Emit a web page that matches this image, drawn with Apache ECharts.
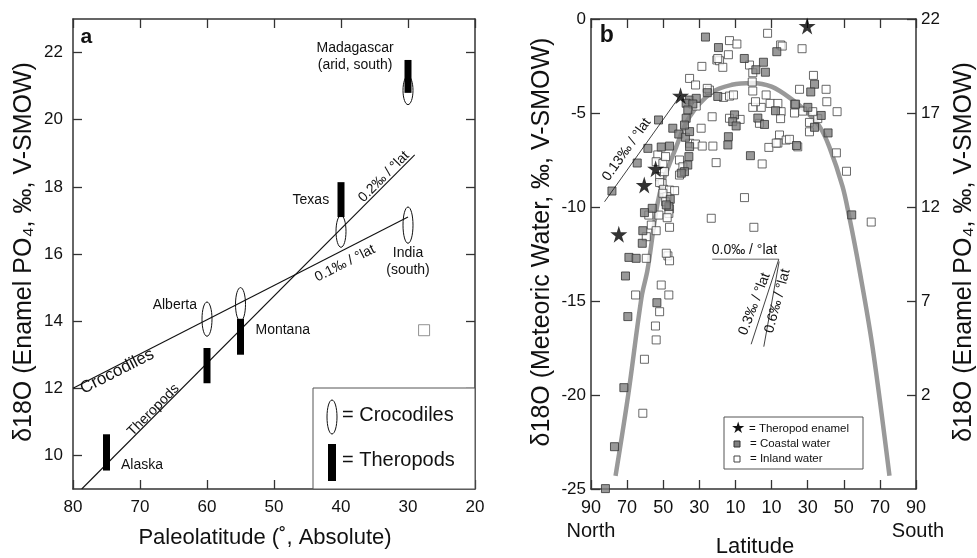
<!DOCTYPE html>
<html>
<head>
<meta charset="utf-8">
<title>δ18O vs latitude</title>
<script src="https://cdn.jsdelivr.net/npm/echarts@6.0.0/dist/echarts.min.js"></script>
<style>
  html, body { margin: 0; padding: 0; background: #fff; }
  #chart { width: 977px; height: 558px; }
</style>
</head>
<body>
<div id="chart"></div>
<script>
const FONT = '"Liberation Sans", Arial, Helvetica, sans-serif';

// ---- panel a : enamel d18O vs paleolatitude ----
const paleoTicks = [80, 70, 60, 50, 40, 30, 20];
const enamelTicks = [10, 12, 14, 16, 18, 20, 22];
// crocodiles (ellipses): latitude, low, high
const crocLat  = [60, 55, 40, 30, 30];
const crocLow  = [13.55, 14.0, 16.2, 16.32, 20.45];
const crocHigh = [14.57, 15.0, 17.15, 17.4, 21.3];
// theropods (bars)
const theroLat  = [75, 60, 55, 40, 30];
const theroLow  = [9.55, 12.15, 13.0, 17.1, 20.8];
const theroHigh = [10.63, 13.2, 14.07, 18.14, 21.78];
// regression lines
const crocLine  = [[80, 12.0], [30, 17.1]];
const theroLine = [[78.7, 9.0], [29, 18.95]];
const oddSquare = [[27.6, 13.73]];

// ---- panel b : meteoric water d18O vs latitude (north negative) ----
const latTicks = [-90, -70, -50, -30, -10, 10, 30, 50, 70, 90];
const enamelRightTicks = [2, 7, 12, 17, 22];
const theropodEnamel = [[-40.4, -4.08], [-54.2, -7.96], [-60.5, -8.83], [-74.6, -11.45], [29.7, -0.37]];
const coastalWater = [
  [-26.6, -0.96], [-19.4, -1.52], [-5.1, -2.1], [5.5, -2.3], [1.3, -2.7], [6.6, -2.83], [12.9, -1.74],
  [33.8, -3.47], [31.7, -3.88], [30.1, -4.7], [37.5, -5.13], [33.8, -5.76], [41.3, -6.06], [54.4, -10.42],
  [12.2, -4.88], [23.3, -4.53], [2.4, -5.27], [6.1, -5.61], [23.8, -6.73], [-1.7, -7.27],
  [-25.6, -3.92], [-19.8, -4.12], [-10.5, -5.1], [-11.5, -5.46], [-9.6, -5.69], [-13.9, -6.26], [-14.2, -6.7],
  [-35.4, -4.31], [-31.7, -4.22], [-37.3, -4.48], [-33.6, -4.52], [-36.4, -4.84], [-37.3, -5.28],
  [-52.6, -5.37], [-44.7, -5.81], [-41.4, -6.12], [-37.7, -6.29], [-35.4, -5.99], [-38.2, -5.64],
  [-51.1, -6.81], [-58.5, -6.88], [-64.4, -7.66], [-46.5, -6.76], [-35.4, -6.79], [-35.8, -7.32],
  [-36.4, -7.77], [-38.2, -8.12], [-40.0, -8.2], [-78.4, -9.15], [-46.1, -9.59], [-46.9, -9.98],
  [-48.3, -9.89], [-56.1, -10.07], [-60.4, -10.3], [-61.3, -11.26], [-61.6, -11.93], [-69.0, -12.68],
  [-65.0, -12.73], [-70.9, -13.67], [-53.5, -15.09], [-69.6, -15.83], [-71.8, -19.61], [-77.0, -22.75],
  [-82.0, -24.98]
];
const inlandWater = [
  [-13.3, -1.15], [-9.2, -1.33], [-13.9, -1.9], [-20.3, -2.18], [-18.8, -2.22], [-17.0, -2.57], [-28.6, -2.52],
  [7.8, -0.76], [15.0, -1.38], [15.9, -1.44], [26.9, -1.58], [-2.2, -2.45], [-0.4, -2.86], [-0.7, -3.35],
  [7.0, -4.04], [-0.4, -3.83], [9.2, -4.49], [13.5, -4.49], [-0.4, -4.7], [4.3, -4.7], [1.1, -4.4],
  [15.3, -4.93], [15.0, -5.3], [22.7, -4.54], [22.7, -5.0], [25.5, -3.74], [33.2, -3.0], [40.2, -3.74],
  [40.6, -4.4], [31.0, -5.5], [35.6, -5.3], [32.8, -4.93], [27.3, -4.9], [46.3, -4.93], [31.0, -6.0],
  [-13.3, -5.28], [-7.4, -5.34], [3.3, -5.55], [-24.4, -3.78], [-22.9, -5.2], [-16.6, -4.17], [-13.3, -4.1],
  [-11.1, -4.04], [14.4, -6.17], [18.1, -6.44], [13.5, -6.6], [24.5, -6.8], [8.5, -6.83], [-22.5, -6.76],
  [-20.7, -7.64], [4.8, -7.71], [45.9, -7.12], [51.5, -8.1], [-5.0, -9.5], [0.2, -11.08], [-23.4, -10.6],
  [65.2, -10.8], [19.9, -6.4], [12.6, -6.6],
  [-19.8, -2.1], [-35.4, -3.16], [-32.1, -3.51], [-25.6, -3.69], [-31.7, -4.63], [-29.0, -5.81],
  [-35.4, -6.61], [-32.1, -6.65], [-28.4, -6.76], [-53.0, -7.23], [-53.9, -7.59], [-50.2, -7.68],
  [-48.7, -7.32], [-41.0, -7.5], [-39.1, -7.86], [-52.0, -8.39], [-50.6, -8.74], [-41.0, -8.3],
  [-49.3, -8.12], [-52.0, -8.7], [-49.8, -9.06], [-46.5, -9.1], [-43.7, -9.13], [-48.0, -9.45],
  [-50.2, -9.27], [-48.7, -9.72], [-46.5, -10.1], [-46.9, -10.34], [-56.6, -10.96], [-46.5, -11.08],
  [-53.9, -11.26], [-52.4, -10.43], [-59.4, -11.58], [-47.8, -10.57], [-58.0, -10.43], [-59.4, -12.73],
  [-47.4, -12.6], [-46.5, -12.86], [-48.3, -12.46], [-65.3, -14.68], [-51.1, -14.15], [-46.9, -14.68],
  [-52.0, -15.57], [-54.3, -16.33], [-53.9, -17.07], [-60.4, -18.1], [-61.3, -20.97]
];
// grey fitted curve
const curveLat = [-76.4, -69.4, -62.0, -58.7, -52.0, -42.8, -35.4, -23.0, -12.0, -1.0, 10.0, 21.6, 30.0, 36.5, 42.0, 49.3, 53.0, 58.7, 66.0, 75.3];
const curveVal = [-24.3, -20.0, -14.8, -13.35, -9.3, -6.8, -5.2, -3.9, -3.5, -3.4, -3.6, -4.3, -5.0, -5.7, -6.8, -8.9, -10.5, -13.35, -17.5, -24.3];
// gradient guide lines
const slope013 = [[-82.5, -9.72], [-40.4, -4.05]];
const slope00  = [[-22.9, -12.78], [14.0, -12.78]];
const slope03  = [[14.0, -12.78], [-1.3, -17.3]];
const slope06  = [[14.2, -12.9], [5.7, -17.43]];

// annotations: x, y, text, rotation(deg), fontSize, weight
const notesA = [
  [37.9, 21.87, 'Madagascar\n(arid, south)', 0, 14, 'normal'],
  [44.5, 17.6, 'Texas', 0, 14, 'normal'],
  [30.0, 15.78, 'India\n(south)', 0, 14, 'normal'],
  [64.8, 14.48, 'Alberta', 0, 14, 'normal'],
  [48.7, 13.73, 'Montana', 0, 14, 'normal'],
  [69.7, 9.7, 'Alaska', 0, 14, 'normal'],
  [73.4, 12.5, 'Crocodiles', 27, 17, 'normal'],
  [68.0, 11.35, 'Theropods', 45, 14, 'normal'],
  [33.6, 18.3, '0.2‰ / °lat', 45, 14, 'normal'],
  [39.4, 15.72, '0.1‰ / °lat', 27, 14, 'normal'],
  [78.0, 22.47, 'a', 0, 21, 'bold']
];
const notesB = [
  [-70.3, -6.95, '0.13‰ / °lat', 54.5, 14, 'normal'],
  [-5.0, -12.29, '0.0‰ / °lat', 0, 14, 'normal'],
  [0.55, -15.16, '0.3‰ / °lat', 69, 14, 'normal'],
  [13.3, -15.0, '0.6‰ / °lat', 75, 14, 'normal'],
  [-81.3, -0.9, 'b', 0, 23, 'bold']
];

const STAR = 'path://M50,0 L61,35 L98,35 L68,57 L79,91 L50,70 L21,91 L32,57 L2,35 L39,35 Z';
const axisLine = { onZero: false, lineStyle: { color: '#333', width: 1.5 } };
const tickStyle = { color: '#333', width: 1.3 };

function rangeItem(shape) {
  return function (params, api) {
    const lat = api.value(0);
    const top = api.coord([lat, api.value(2)]);
    const bot = api.coord([lat, api.value(1)]);
    if (shape === 'ellipse') {
      return { type: 'ellipse', shape: { cx: top[0], cy: (top[1] + bot[1]) / 2, rx: 5, ry: (bot[1] - top[1]) / 2 },
               style: { fill: '#fff', stroke: '#111', lineWidth: 1 } };
    }
    return { type: 'rect', shape: { x: top[0] - 3.5, y: top[1], width: 7, height: bot[1] - top[1] },
             style: { fill: '#000' } };
  };
}

function noteItem(list) {
  return function (params, api) {
    const n = list[params.dataIndex];
    const p = api.coord([n[0], n[1]]);
    return { type: 'text', x: p[0], y: p[1], rotation: n[3] * Math.PI / 180,
      style: { text: n[2], fontSize: n[4], fontWeight: n[5], fontFamily: FONT, fill: '#111',
               align: 'center', verticalAlign: 'middle', lineHeight: 17 } };
  };
}

function legendItem() {
  const t = (x, y, s, size, fam) => ({ type: 'text', x: x, y: y,
    style: { text: s, fontSize: size, fontFamily: fam || FONT, fill: '#111', align: 'left', verticalAlign: 'middle' } });
  return { type: 'group', children: [
    { type: 'rect', shape: { x: 313, y: 388, width: 162, height: 101 }, style: { fill: '#fff', stroke: '#555', lineWidth: 1 } },
    { type: 'ellipse', shape: { cx: 332, cy: 417, rx: 5, ry: 17 }, style: { fill: '#fff', stroke: '#111', lineWidth: 1 } },
    t(342, 415, '= Crocodiles', 20),
    { type: 'rect', shape: { x: 328, y: 444, width: 8, height: 37 }, style: { fill: '#000' } },
    t(342, 460, '= Theropods', 20),
    { type: 'rect', shape: { x: 724, y: 417, width: 139, height: 52 }, style: { fill: '#fff', stroke: '#555', lineWidth: 1 } },
    t(731, 429, '★', 16, '"DejaVu Sans", sans-serif'),
    t(749, 429, '= Theropod enamel', 11.5),
    { type: 'rect', shape: { x: 734, y: 441, width: 6, height: 6 }, style: { fill: '#7f7f7f', stroke: '#333', lineWidth: 1 } },
    t(750, 444, '= Coastal water', 11.5),
    { type: 'rect', shape: { x: 734, y: 456, width: 6, height: 6 }, style: { fill: '#fff', stroke: '#444', lineWidth: 1 } },
    t(750, 459, '= Inland water', 11.5)
  ] };
}

function titleText(x, y, text, size, vertical) {
  return { type: 'text', x: x, y: y, rotation: vertical ? Math.PI / 2 : 0,
    style: { text: text, font: size + 'px ' + FONT, fill: '#111',
             textAlign: 'center', textVerticalAlign: 'middle', align: 'center', verticalAlign: 'middle' } };
}

const chart = echarts.init(document.getElementById('chart'));
const tickLabel = { fontSize: 17, color: '#111', fontFamily: FONT };

const option = {
  animation: false,
  backgroundColor: '#fff',
  grid: [
    { left: 73, top: 19, width: 402, height: 470 },
    { left: 591, top: 19, width: 325, height: 470 }
  ],
  xAxis: [
    { gridIndex: 0, type: 'value', min: 20, max: 80, interval: 10, inverse: true, position: 'bottom',
      axisLine: axisLine, axisTick: { inside: true, length: 9, lineStyle: tickStyle },
      axisLabel: Object.assign({ margin: 10 }, tickLabel), splitLine: { show: false } },
    { gridIndex: 0, type: 'value', min: 20, max: 80, interval: 10, inverse: true, position: 'top',
      axisLine: axisLine, axisTick: { inside: true, length: 9, lineStyle: tickStyle },
      axisLabel: { show: false }, splitLine: { show: false } },
    { gridIndex: 1, type: 'value', min: -90, max: 90, position: 'bottom',
      axisLine: axisLine, axisTick: { inside: true, length: 9, customValues: latTicks, lineStyle: tickStyle },
      axisLabel: Object.assign({ margin: 10, customValues: latTicks, formatter: v => Math.abs(v) }, tickLabel, { fontSize: 18 }),
      splitLine: { show: false } },
    { gridIndex: 1, type: 'value', min: -90, max: 90, position: 'top',
      axisLine: axisLine, axisTick: { inside: true, length: 9, customValues: latTicks, lineStyle: tickStyle },
      axisLabel: { show: false }, splitLine: { show: false } }
  ],
  yAxis: [
    { gridIndex: 0, type: 'value', min: 9, max: 23, position: 'left',
      axisLine: axisLine, axisTick: { inside: true, length: 9, customValues: enamelTicks, lineStyle: tickStyle },
      axisLabel: Object.assign({ margin: 10, customValues: enamelTicks }, tickLabel), splitLine: { show: false } },
    { gridIndex: 0, type: 'value', min: 9, max: 23, position: 'right',
      axisLine: axisLine, axisTick: { inside: true, length: 9, customValues: enamelTicks, lineStyle: tickStyle },
      axisLabel: { show: false }, splitLine: { show: false } },
    { gridIndex: 1, type: 'value', min: -25, max: 0, interval: 5, position: 'left',
      axisLine: axisLine, axisTick: { inside: true, length: 9, lineStyle: tickStyle },
      axisLabel: Object.assign({ margin: 5 }, tickLabel), splitLine: { show: false } },
    { gridIndex: 1, type: 'value', min: -3, max: 22, position: 'right',
      axisLine: axisLine, axisTick: { inside: true, length: 9, customValues: enamelRightTicks, lineStyle: tickStyle },
      axisLabel: Object.assign({ margin: 5, customValues: enamelRightTicks }, tickLabel), splitLine: { show: false } }
  ],
  graphic: [
    titleText(24, 252, 'δ18O (Enamel PO₄, ‰, V-SMOW)', 25, true),
    titleText(265, 538, 'Paleolatitude (˚, Absolute)', 22, false),
    titleText(542, 242, 'δ18O (Meteoric Water, ‰, V-SMOW)', 25, true),
    titleText(964, 252, 'δ18O (Enamel PO₄, ‰, V-SMOW)', 25, true),
    titleText(591, 531, 'North', 20, false),
    titleText(918, 531, 'South', 20, false),
    titleText(755, 547, 'Latitude', 22, false)
  ],
  series: [
    // panel a
    { type: 'custom', name: 'Crocodiles', xAxisIndex: 0, yAxisIndex: 0, z: 2, clip: false,
      renderItem: rangeItem('ellipse'), encode: { x: 0, y: [1, 2] },
      data: crocLat.map((v, i) => [v, crocLow[i], crocHigh[i]]) },
    { type: 'line', xAxisIndex: 0, yAxisIndex: 0, z: 3, symbol: 'none', data: crocLine,
      lineStyle: { color: '#111', width: 1.1 } },
    { type: 'line', xAxisIndex: 0, yAxisIndex: 0, z: 3, symbol: 'none', data: theroLine,
      lineStyle: { color: '#111', width: 1.1 } },
    { type: 'custom', name: 'Theropods', xAxisIndex: 0, yAxisIndex: 0, z: 4, clip: false,
      renderItem: rangeItem('rect'), encode: { x: 0, y: [1, 2] },
      data: theroLat.map((v, i) => [v, theroLow[i], theroHigh[i]]) },
    { type: 'scatter', xAxisIndex: 0, yAxisIndex: 0, symbol: 'rect', symbolSize: 11, data: oddSquare,
      itemStyle: { color: '#fff', borderColor: '#777', borderWidth: 1 } },
    { type: 'custom', xAxisIndex: 0, yAxisIndex: 0, z: 5, clip: false, silent: true,
      renderItem: noteItem(notesA), data: notesA.map(n => [n[0], n[1]]) },
    // panel b
    { type: 'line', xAxisIndex: 2, yAxisIndex: 2, z: 2, symbol: 'none', smooth: 0.35,
      data: curveLat.map((v, i) => [v, curveVal[i]]), lineStyle: { color: '#999', width: 4.5 } },
    { type: 'scatter', name: 'Inland water', xAxisIndex: 2, yAxisIndex: 2, z: 3, symbol: 'rect', symbolSize: 8,
      data: inlandWater, itemStyle: { color: '#fff', borderColor: '#444', borderWidth: 1 } },
    { type: 'scatter', name: 'Coastal water', xAxisIndex: 2, yAxisIndex: 2, z: 4, symbol: 'rect', symbolSize: 8,
      data: coastalWater, itemStyle: { color: '#7f7f7f', borderColor: '#333', borderWidth: 1 } },
    { type: 'scatter', name: 'Theropod enamel', xAxisIndex: 2, yAxisIndex: 2, z: 5, symbol: STAR, symbolSize: 17,
      data: theropodEnamel, itemStyle: { color: '#000' } },
    { type: 'line', xAxisIndex: 2, yAxisIndex: 2, z: 5, symbol: 'none', data: slope013,
      lineStyle: { color: '#111', width: 0.8 } },
    { type: 'line', xAxisIndex: 2, yAxisIndex: 2, z: 5, symbol: 'none', data: slope00,
      lineStyle: { color: '#999', width: 1.6 } },
    { type: 'line', xAxisIndex: 2, yAxisIndex: 2, z: 5, symbol: 'none', data: slope03,
      lineStyle: { color: '#111', width: 0.8 } },
    { type: 'line', xAxisIndex: 2, yAxisIndex: 2, z: 5, symbol: 'none', data: slope06,
      lineStyle: { color: '#111', width: 0.8 } },
    { type: 'custom', xAxisIndex: 2, yAxisIndex: 2, z: 6, clip: false, silent: true,
      renderItem: noteItem(notesB), data: notesB.map(n => [n[0], n[1]]) },
    // legends of both panels
    { type: 'custom', coordinateSystem: 'none', z: 10, silent: true, renderItem: legendItem, data: [0] }
  ]
};

chart.setOption(option);
</script>
</body>
</html>
